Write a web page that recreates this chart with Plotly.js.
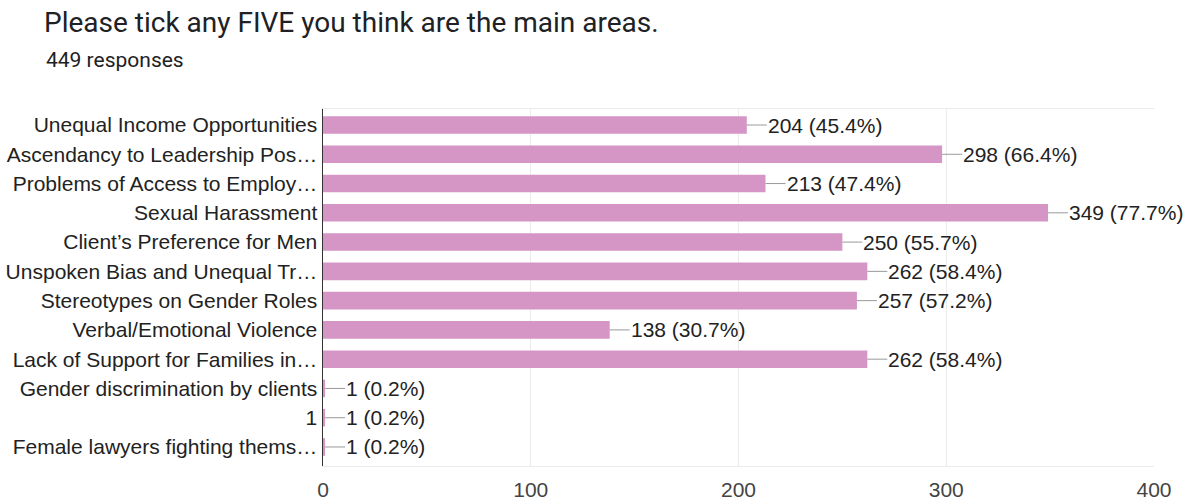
<!DOCTYPE html>
<html>
<head>
<meta charset="utf-8">
<script src="https://cdn.plot.ly/plotly-3.0.1.min.js"></script>
<style>html,body{margin:0;padding:0;background:#fff;}#chart{width:1187px;height:500px;}</style>
</head>
<body>
<div id="chart"></div>
<script>
const titleText = "Please tick any FIVE you think are the main areas.";
const subtitleText = "449 responses";
const categories = [
  "Unequal Income Opportunities",
  "Ascendancy to Leadership Pos…",
  "Problems of Access to Employ…",
  "Sexual Harassment",
  "Client’s Preference for Men",
  "Unspoken Bias and Unequal Tr…",
  "Stereotypes on Gender Roles",
  "Verbal/Emotional Violence",
  "Lack of Support for Families in…",
  "Gender discrimination by clients",
  "1",
  "Female lawyers fighting thems…"
];
const counts = [204, 298, 213, 349, 250, 262, 257, 138, 262, 1, 1, 1];
const percents = [45.4, 66.4, 47.4, 77.7, 55.7, 58.4, 57.2, 30.7, 58.4, 0.2, 0.2, 0.2];
const xTicks = [0, 100, 200, 300, 400];

const W = 1187, H = 500;
const L = 323, R = 33, T = 109, B = 34;

const trace = {
  type: 'bar',
  orientation: 'h',
  x: counts,
  y: categories,
  marker: {color: '#d596c6', line: {width: 0}},
  width: 0.6,
  hoverinfo: 'skip'
};

const annotations = counts.map((c, i) => ({
  x: c, y: i, xref: 'x', yref: 'y',
  text: c + ' (' + percents[i].toFixed(1) + '%)',
  showarrow: true, arrowhead: 0, arrowwidth: 1, arrowcolor: '#9a9a9a',
  ax: 20, ay: 0, xanchor: 'left', yanchor: 'middle',
  borderpad: 0,
  font: {family: 'Liberation Sans, Arial, sans-serif', size: 21, color: '#222'}
}));

annotations.push({
  text: subtitleText, xref: 'paper', yref: 'paper',
  x: (44 - L) / (W - L - R), y: 1 + (T - 60) / (H - T - B),
  xanchor: 'left', yanchor: 'middle', showarrow: false,
  font: {family: 'Roboto, sans-serif', size: 21, color: '#202124'}
});

const layout = {
  width: W, height: H,
  margin: {l: L, r: R, t: T, b: B, pad: 0},
  paper_bgcolor: '#fff', plot_bgcolor: '#fff',
  showlegend: false,
  title: {
    text: titleText, xref: 'container', yref: 'container',
    x: 44 / W, y: 1 - 22 / H, xanchor: 'left', yanchor: 'middle',
    font: {family: 'Roboto, sans-serif', size: 28, color: '#202124'}
  },
  xaxis: {
    range: [0, 400], tickvals: xTicks, ticktext: xTicks.map(String),
    showgrid: true, gridcolor: '#ebebeb', gridwidth: 1,
    zeroline: false, showline: true, mirror: true, linecolor: '#ebebeb', linewidth: 1,
    ticks: '', ticklabelstandoff: 5,
    tickfont: {family: 'Liberation Sans, Arial, sans-serif', size: 21, color: '#444'},
    fixedrange: true
  },
  yaxis: {
    type: 'category', range: [11.65, -0.547],
    showgrid: false, zeroline: false,
    showline: true, linecolor: '#333', linewidth: 1.5,
    ticks: '', ticklabelstandoff: 0,
    tickfont: {family: 'Liberation Sans, Arial, sans-serif', size: 21, color: '#222'},
    fixedrange: true
  },
  annotations: annotations
};

Plotly.newPlot('chart', [trace], layout, {displayModeBar: false, staticPlot: true});
</script>
</body>
</html>
